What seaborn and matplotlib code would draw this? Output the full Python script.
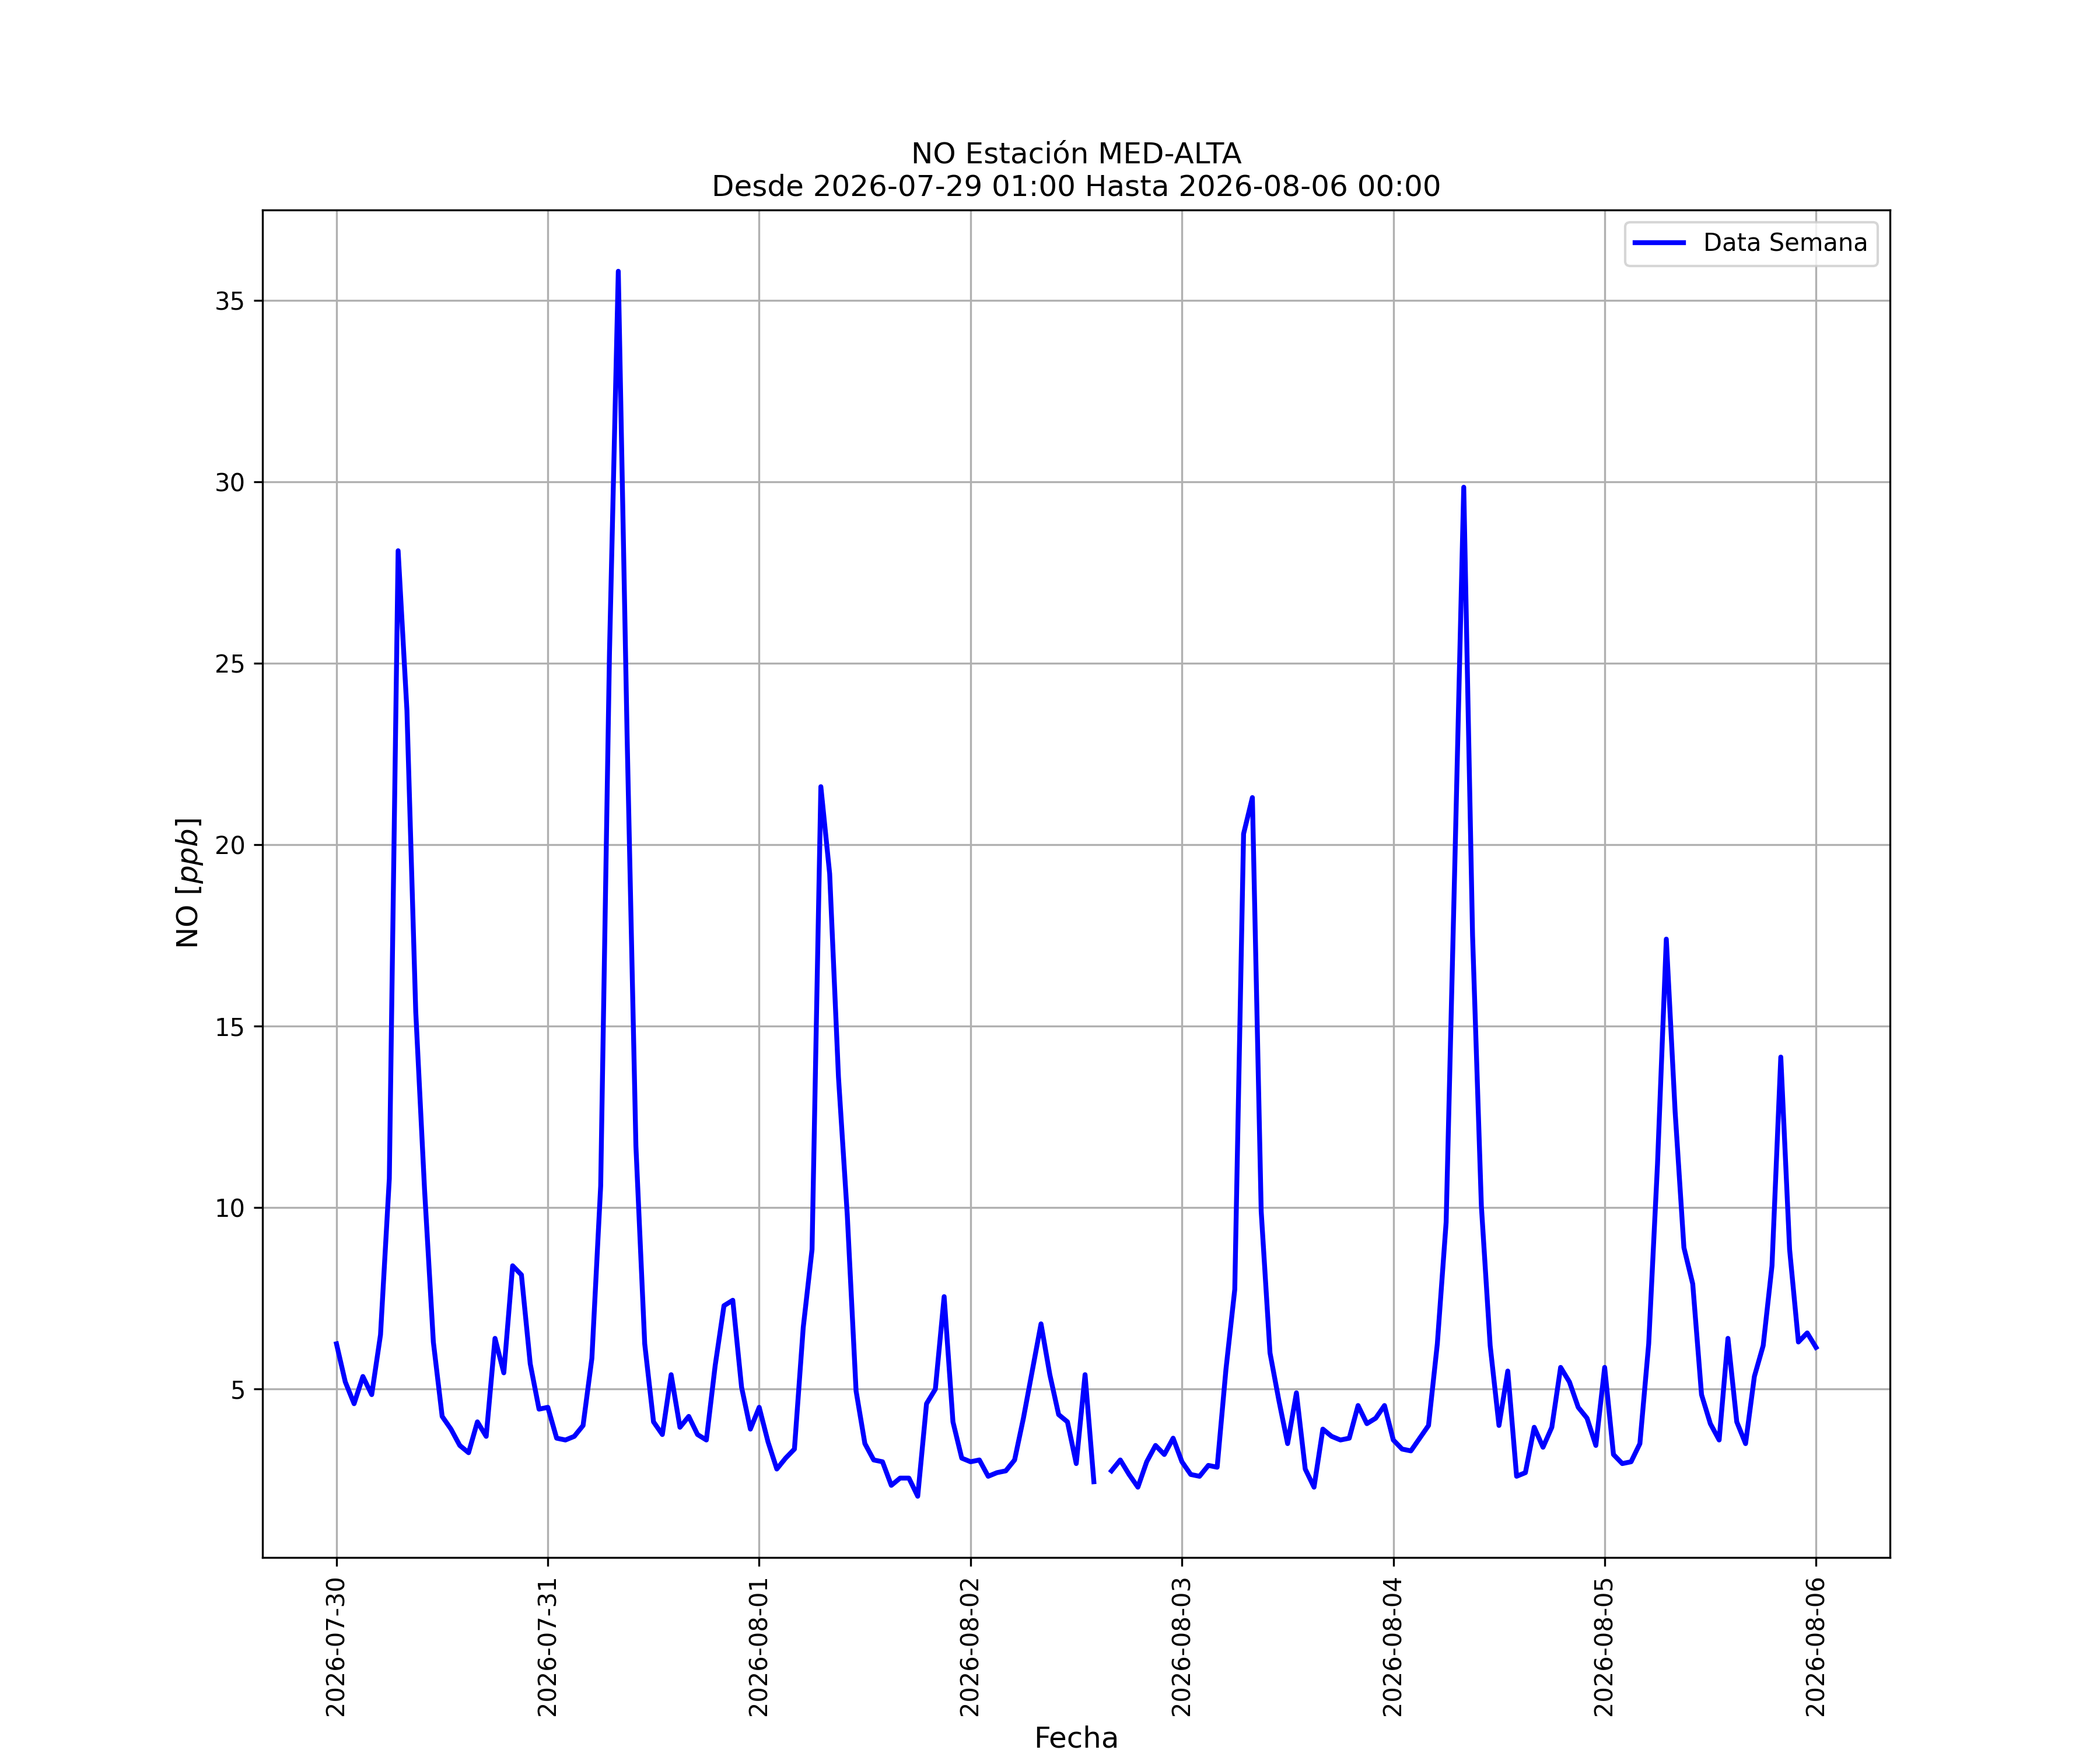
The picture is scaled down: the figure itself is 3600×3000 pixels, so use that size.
import numpy as np
import pandas as pd
import matplotlib
matplotlib.use("Agg")
import matplotlib.pyplot as plt
import matplotlib.dates as mdates
import seaborn as sns

# Hourly NO values (ppb), 2026-07-30 00:00 .. 2026-08-06 00:00
day_0730 = [6.25, 5.2, 4.6, 5.35, 4.85, 6.5, 10.8, 28.1, 23.7, 15.4, 10.5, 6.3,
            4.25, 3.9, 3.45, 3.25, 4.1, 3.7, 6.4, 5.45, 8.4, 8.15, 5.7, 4.45]
day_0731 = [4.5, 3.65, 3.6, 3.7, 4.0, 5.85, 10.6, 25.3, 35.8, 23.0, 11.7, 6.25,
            4.1, 3.75, 5.4, 3.95, 4.25, 3.75, 3.6, 5.65, 7.3, 7.45, 5.05, 3.9]
day_0801 = [4.5, 3.55, 2.8, 3.1, 3.35, 6.7, 8.85, 21.6, 19.2, 13.6, 9.8, 4.95,
            3.5, 3.05, 3.0, 2.35, 2.55, 2.55, 2.05, 4.6, 5.0, 7.55, 4.1, 3.1]
day_0802 = [3.0, 3.05, 2.6, 2.7, 2.75, 3.05, 4.2, 5.5, 6.8, 5.4, 4.3, 4.1,
            2.95, 5.4, 2.45, np.nan, 2.75, 3.05, 2.65, 2.3, 3.0, 3.45, 3.2, 3.65]
day_0803 = [3.0, 2.65, 2.6, 2.9, 2.85, 5.55, 7.75, 20.3, 21.3, 9.9, 6.0, 4.7,
            3.5, 4.9, 2.8, 2.3, 3.9, 3.7, 3.6, 3.65, 4.55, 4.05, 4.2, 4.55]
day_0804 = [3.6, 3.35, 3.3, 3.65, 4.0, 6.25, 9.6, 19.6, 29.85, 17.5, 10.05, 6.2,
            4.0, 5.5, 2.6, 2.7, 3.95, 3.4, 3.95, 5.6, 5.2, 4.5, 4.2, 3.45]
day_0805 = [5.6, 3.2, 2.95, 3.0, 3.5, 6.25, 11.2, 17.4, 12.65, 8.9, 7.9, 4.85,
            4.05, 3.6, 6.4, 4.1, 3.5, 5.35, 6.2, 8.4, 14.15, 8.85, 6.3, 6.55]
day_0806 = [6.15]

start_time = "2026-07-30 00:00"
series_label = "Data Semana"
title_text = "NO Estación MED-ALTA\nDesde 2026-07-29 01:00 Hasta 2026-08-06 00:00"
xlabel_text = "Fecha"
ylabel_text = r"NO $[ppb]$"

values = (day_0730 + day_0731 + day_0801 + day_0802 + day_0803 +
          day_0804 + day_0805 + day_0806)
times = pd.date_range(start_time, periods=len(values), freq="h")
df = pd.DataFrame({"Fecha": times, "NO": values})

# split into contiguous segments so the missing hour shows as a gap
df["seg"] = df["NO"].isna().cumsum()
df = df.dropna()

fig, ax = plt.subplots(figsize=(12, 10), dpi=300)
first = True
for _, sub in df.groupby("seg"):
    sns.lineplot(data=sub, x="Fecha", y="NO", ax=ax, color="blue",
                 linewidth=2, label=series_label if first else None,
                 legend=False)
    first = False

ax.set_title(title_text, fontsize=12)
ax.set_xlabel(xlabel_text, fontsize=12)
ax.set_ylabel(ylabel_text, fontsize=12)
ax.xaxis.set_major_locator(mdates.DayLocator())
ax.xaxis.set_major_formatter(mdates.DateFormatter("%Y-%m-%d"))
for lbl in ax.get_xticklabels():
    lbl.set_rotation(90)
ax.tick_params(labelsize=10)
ax.grid(True)
ax.legend(loc="upper right", fontsize=10)

fig.savefig("out.png", dpi=300)
